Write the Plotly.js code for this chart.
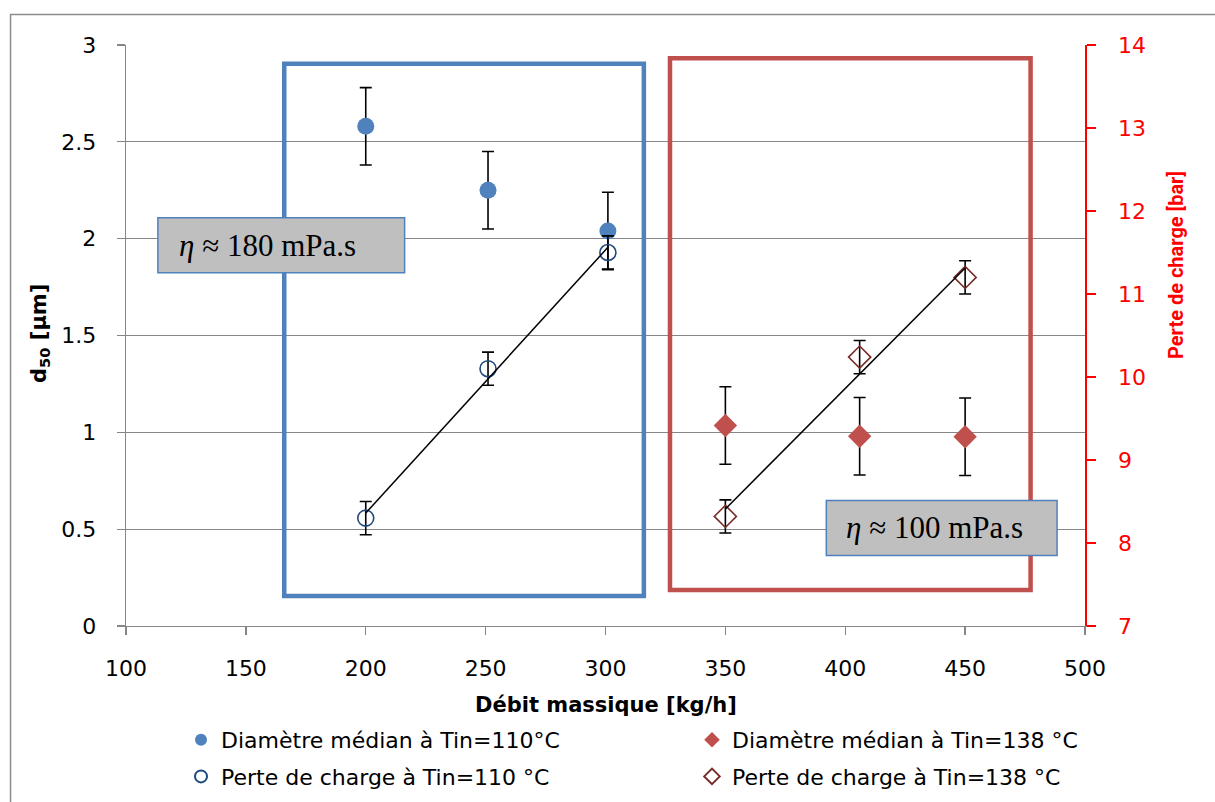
<!DOCTYPE html>
<html>
<head>
<meta charset="utf-8">
<script src="https://cdn.plot.ly/plotly-3.0.1.min.js"></script>
<style>html,body{margin:0;padding:0;background:#fff;}#chart{width:1215px;height:802px;}</style>
</head>
<body>
<div id="chart"></div>
<script>
// Data
const flow110 = [200, 251, 301];
const d50_110 = [2.58, 2.25, 2.04];
const d50_110_err = [0.2, 0.2, 0.2];
const dp110 = [8.3, 10.1, 11.5];
const dp110_err = [0.2, 0.2, 0.2];

const flow138 = [350, 406, 450];
const d50_138 = [1.035, 0.98, 0.977];
const d50_138_err = [0.2, 0.2, 0.2];
const dp138 = [8.32, 10.24, 11.2];
const dp138_err = [0.2, 0.2, 0.2];

const xTitle = 'Débit massique [kg/h]';
const yTitle = '<b>d<sub>50</sub> [µm]</b>';
const y2Title = 'Perte de charge [bar]';
const names = ['Diamètre médian à Tin=110°C', 'Diamètre médian à Tin=138 °C',
               'Perte de charge à Tin=110 °C', 'Perte de charge à Tin=138 °C'];
const boxTexts = ['<i>η</i> ≈ 180 mPa.s', '<i>η</i> ≈ 100 mPa.s'];

// least-squares linear trendline (as Excel trendline) evaluated at first/last x
function trend(xs, ys) {
  const n = xs.length;
  const mx = xs.reduce((a, b) => a + b, 0) / n;
  const my = ys.reduce((a, b) => a + b, 0) / n;
  let sxy = 0, sxx = 0;
  for (let i = 0; i < n; i++) { sxy += (xs[i] - mx) * (ys[i] - my); sxx += (xs[i] - mx) ** 2; }
  const k = sxy / sxx, b = my - k * mx;
  const ex = [xs[0], xs[n - 1]];
  return {x: ex, y: ex.map(v => k * v + b)};
}
const t110 = trend(flow110, dp110);
const t138 = trend(flow138, dp138);

const errStyle = {type: 'data', visible: true, color: '#000', thickness: 1.6, width: 6};
const FONT = '"DejaVu Sans", Verdana, sans-serif';
const SERIF = '"Liberation Serif", "Times New Roman", serif';

const traces = [
  {x: flow110, y: d50_110, name: names[0], mode: 'markers', type: 'scatter', yaxis: 'y',
   legend: 'legend', legendgroup: 'a',
   marker: {symbol: 'circle', size: 17, color: '#4f81bd'},
   error_y: Object.assign({array: d50_110_err}, errStyle)},
  {x: flow138, y: d50_138, name: names[1], mode: 'markers', type: 'scatter', yaxis: 'y',
   legend: 'legend2', legendgroup: 'b',
   marker: {symbol: 'diamond', size: 18, color: '#c0504d'},
   error_y: Object.assign({array: d50_138_err}, errStyle)},
  {x: flow110, y: dp110, name: names[2], mode: 'markers', type: 'scatter', yaxis: 'y2',
   legend: 'legend', legendgroup: 'c',
   marker: {symbol: 'circle-open', size: 16, color: '#1f497d', line: {width: 1.6}},
   error_y: Object.assign({array: dp110_err}, errStyle)},
  {x: flow138, y: dp138, name: names[3], mode: 'markers', type: 'scatter', yaxis: 'y2',
   legend: 'legend2', legendgroup: 'd',
   marker: {symbol: 'diamond-open', size: 17, color: '#772c2a', line: {width: 1.6}},
   error_y: Object.assign({array: dp138_err}, errStyle)},
  {x: t110.x, y: t110.y, mode: 'lines', yaxis: 'y2', showlegend: false, hoverinfo: 'skip',
   line: {color: '#000', width: 1.5}},
  {x: t138.x, y: t138.y, mode: 'lines', yaxis: 'y2', showlegend: false, hoverinfo: 'skip',
   line: {color: '#000', width: 1.5}}
];

const legendBase = {
  orientation: 'v', y: (626 - 719) / 581, yanchor: 'top', xanchor: 'left',
  font: {family: FONT, size: 22, color: '#000'}, bgcolor: 'rgba(0,0,0,0)',
  itemsizing: 'constant', tracegroupgap: 5, borderwidth: 0
};

const layout = {
  width: 1215, height: 802,
  margin: {l: 126, r: 130, t: 45, b: 176, autoexpand: false},
  paper_bgcolor: '#fff', plot_bgcolor: 'rgba(0,0,0,0)',
  font: {family: FONT, size: 22, color: '#000'},
  showlegend: true,
  xaxis: {
    range: [100, 500], dtick: 50, tick0: 100, showgrid: false, zeroline: false,
    showline: true, linecolor: '#868686', linewidth: 1.3,
    ticks: 'outside', ticklen: 8, tickcolor: '#868686', tickwidth: 1.3,
    ticklabelstandoff: 14, tickfont: {family: FONT, size: 22, color: '#000'}
  },
  yaxis: {
    range: [0, 3], dtick: 0.5, tick0: 0, showgrid: true, gridcolor: '#868686', gridwidth: 1.3,
    zeroline: false, showline: true, linecolor: '#868686', linewidth: 1.3,
    ticks: 'outside', ticklen: 8, tickcolor: '#868686', tickwidth: 1.3,
    ticklabelstandoff: 16, tickfont: {family: FONT, size: 22, color: '#000'}
  },
  yaxis2: {
    range: [7, 14], dtick: 1, tick0: 7, overlaying: 'y', side: 'right',
    showgrid: false, zeroline: false, showline: true, linecolor: '#ff0000', linewidth: 1.5,
    ticks: 'outside', ticklen: 9, tickcolor: '#ff0000', tickwidth: 1.5,
    ticklabelstandoff: 18, tickfont: {family: FONT, size: 22, color: '#ff0000'}
  },
  legend: Object.assign({}, legendBase, {x: (181 - 126) / 959}),
  legend2: Object.assign({}, legendBase, {x: (692 - 126) / 959}),
  shapes: [
    {type: 'rect', xref: 'paper', yref: 'paper', x0: -0.1204, x1: 1.14, y0: -0.31, y1: 1.0525,
     line: {color: '#8c8c8c', width: 1.5}, fillcolor: 'rgba(0,0,0,0)', layer: 'below'},
    {type: 'rect', xref: 'x', yref: 'y', x0: 166.0, x1: 316.0, y0: 0.155, y1: 2.903,
     line: {color: '#4f81bd', width: 4.5}, fillcolor: 'rgba(0,0,0,0)', layer: 'above'},
    {type: 'rect', xref: 'x', yref: 'y', x0: 326.9, x1: 477.3, y0: 0.186, y1: 2.931,
     line: {color: '#c0504d', width: 4.5}, fillcolor: 'rgba(0,0,0,0)', layer: 'above'},
    {type: 'rect', xref: 'x', yref: 'y', x0: 113.3, x1: 113.3 + 247 / 2.4, y0: 2.108 - 55 / 193.8, y1: 2.108,
     line: {color: '#4f81bd', width: 1.5}, fillcolor: '#bfbfbf', layer: 'above'},
    {type: 'rect', xref: 'x', yref: 'y', x0: 392.1, x1: 392.1 + 231 / 2.4, y0: 0.648 - 55 / 193.8, y1: 0.648,
     line: {color: '#4f81bd', width: 1.5}, fillcolor: '#bfbfbf', layer: 'above'}
  ],
  annotations: [
    {text: boxTexts[0], xref: 'x', yref: 'y', x: 113.3 + 19 / 2.4, y: 2.108 - 27.5 / 193.8,
     xanchor: 'left', yanchor: 'middle', showarrow: false,
     font: {family: SERIF, size: 31, color: '#000'}},
    {text: boxTexts[1], xref: 'x', yref: 'y', x: 392.1 + 18 / 2.4, y: 0.648 - 27.5 / 193.8,
     xanchor: 'left', yanchor: 'middle', showarrow: false,
     font: {family: SERIF, size: 31, color: '#000'}},
    {text: '<b>' + xTitle + '</b>', xref: 'paper', yref: 'paper', x: 0.5, y: (626 - 705) / 581,
     xanchor: 'center', yanchor: 'middle', showarrow: false, font: {family: FONT, size: 21, color: '#000'}},
    {text: yTitle, xref: 'paper', yref: 'paper', x: (40 - 126) / 959, y: (626 - 334) / 581,
     xanchor: 'center', yanchor: 'middle', textangle: -90, showarrow: false,
     font: {family: FONT, size: 21, color: '#000'}},
    {text: '<b>' + y2Title + '</b>', xref: 'paper', yref: 'paper', x: (1176 - 126) / 959, y: (626 - 265) / 581,
     xanchor: 'center', yanchor: 'middle', textangle: -90, showarrow: false,
     font: {family: 'Roboto, "DejaVu Sans Condensed", sans-serif', size: 20, weight: 'bold', color: '#ff0000'}}
  ]
};

Plotly.newPlot('chart', traces, layout, {displayModeBar: false, staticPlot: true});
</script>
</body>
</html>
